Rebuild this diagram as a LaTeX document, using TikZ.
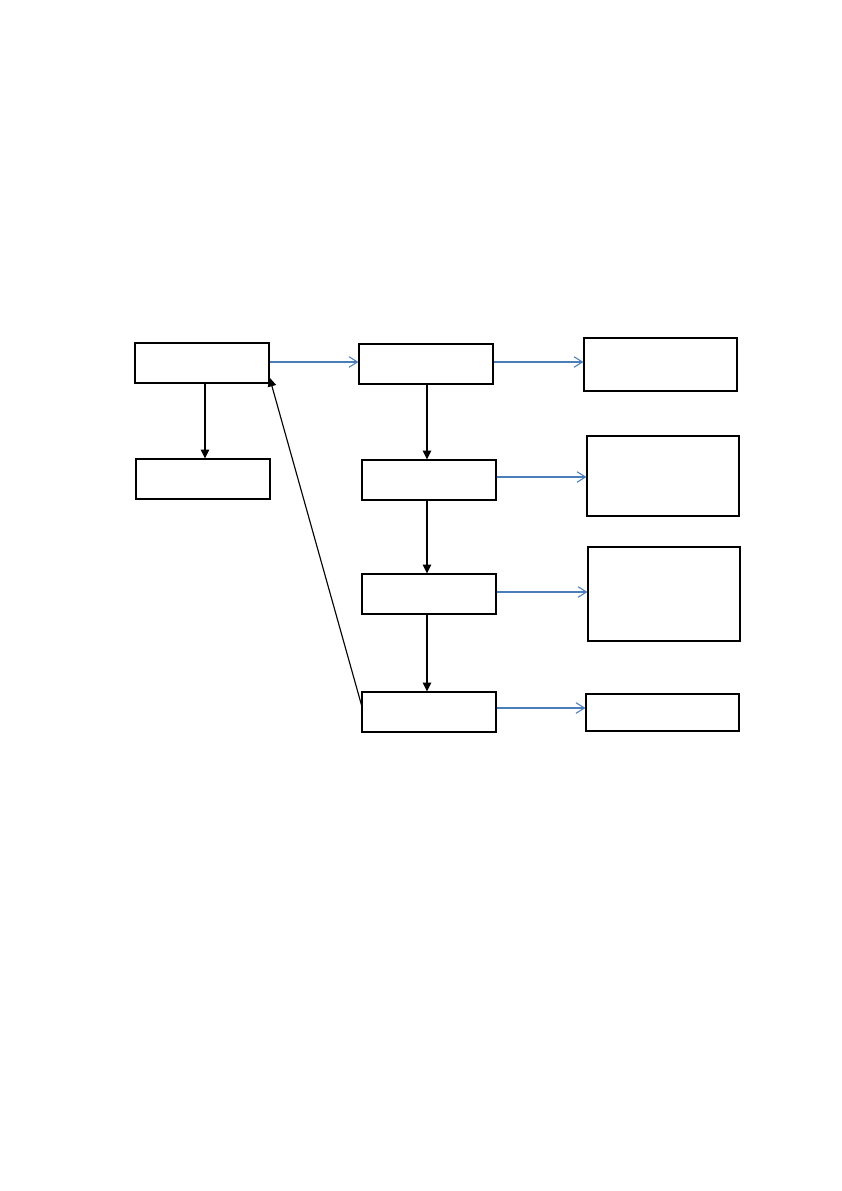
\documentclass[tikz,border=0pt]{standalone}
\usetikzlibrary{arrows.meta}
\definecolor{connblue}{HTML}{4A7EBB}
\def\u{0.70782pt}
\begin{document}
\begin{tikzpicture}[x=\u, y=-\u,
  box/.style 2 args={draw=black, line width=0.75pt, fill=white, inner sep=0pt, minimum width=#1*\u, minimum height=#2*\u},
  flow/.style={draw=black, line width=0.8pt, -{Triangle[length=6.3pt,width=6pt]}},
  link/.style={draw=connblue, line width=0.75pt, -{Straight Barb[length=6pt,width=7.5pt,line width=0.75pt]}}]
\useasboundingbox[fill=white] (0,0) rectangle (841,1191);
\node[box={134}{40}] (A) at (202,363) {};
\node[box={134}{40}] (B) at (203,479) {};
\node[box={134}{40}] (C) at (426,364) {};
\node[box={134}{40}] (D) at (429,480) {};
\node[box={134}{40}] (E) at (429,594) {};
\node[box={134}{40}] (F) at (429,712) {};
\node[box={153}{53}] (R1) at (660.5,364.5) {};
\node[box={152}{80}] (R2) at (663,476) {};
\node[box={152}{94}] (R3) at (664,594) {};
\node[box={153}{37}] (R4) at (662.5,712.5) {};
% black flow arrows
\draw[flow] ([xshift=3*\u]A.south) -- ([xshift=3*\u]A.south |- B.north);
\draw[flow] ([xshift=1*\u]C.south) -- ([xshift=1*\u]C.south |- D.north);
\draw[flow] ([xshift=1*\u]C.south |- D.south) -- ([xshift=1*\u]C.south |- E.north);
\draw[flow] ([xshift=1*\u]C.south |- E.south) -- ([xshift=1*\u]C.south |- F.north);
\draw[flow] ([yshift=7*\u]F.west) -- ([yshift=6*\u]A.south east);
% blue links
\draw[link] ([yshift=1*\u]A.east) -- ([yshift=1*\u]A.east -| C.west);
\draw[link] ([yshift=2*\u]C.east) -- ([yshift=2*\u]C.east -| R1.west);
\draw[link] ([yshift=3*\u]D.east) -- ([yshift=3*\u]D.east -| R2.west);
\draw[link] ([yshift=2*\u]E.east) -- ([yshift=2*\u]E.east -| R3.west);
\draw[link] ([yshift=4*\u]F.east) -- ([yshift=4*\u]F.east -| R4.west);
\end{tikzpicture}
\end{document}
